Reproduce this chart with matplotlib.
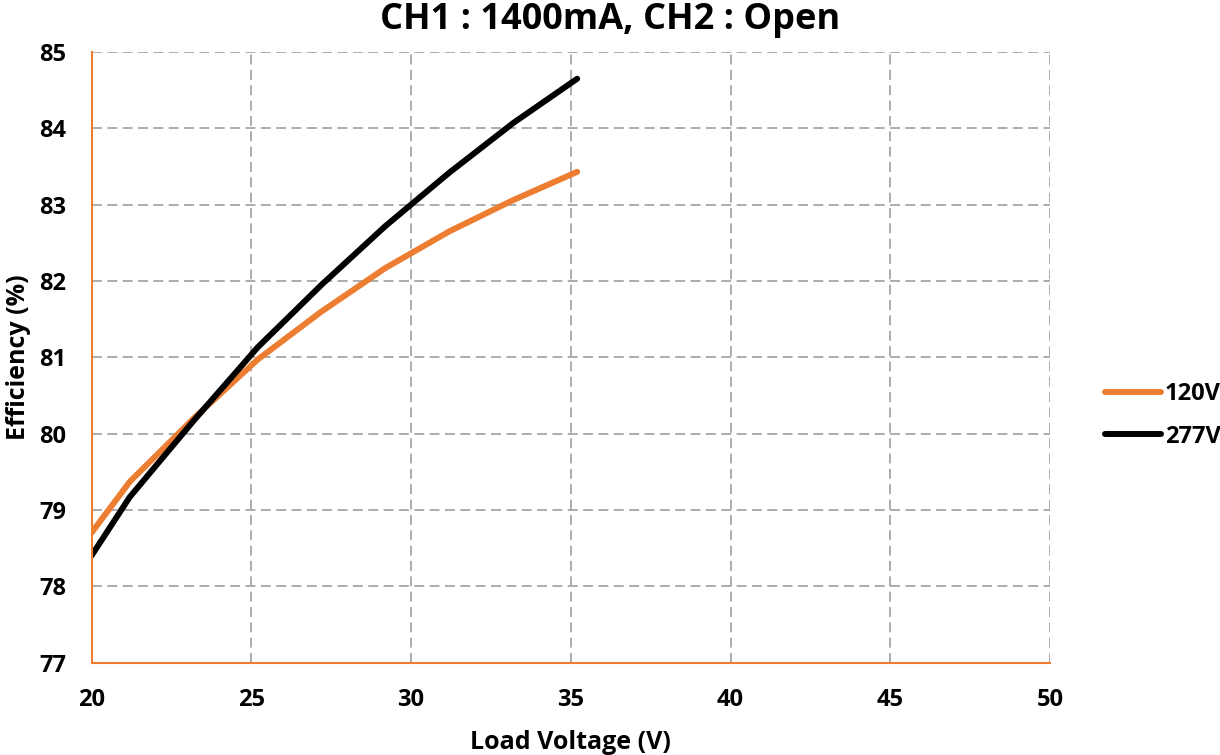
import matplotlib
matplotlib.use('Agg')
import matplotlib.pyplot as plt

plt.rcParams['font.family'] = ['Open Sans', 'DejaVu Sans']
plt.rcParams['font.weight'] = 'bold'

# Load voltage (V) and efficiency (%)
load_voltage = [20.0, 21.2, 23.2, 25.2, 27.2, 29.2, 31.2, 33.2, 35.2]
eff_120v = [78.70, 79.37, 80.20, 80.97, 81.60, 82.17, 82.65, 83.06, 83.43]
eff_277v = [78.40, 79.17, 80.17, 81.13, 81.95, 82.72, 83.42, 84.07, 84.65]

x_ticks = [20, 25, 30, 35, 40, 45, 50]
y_ticks = [77, 78, 79, 80, 81, 82, 83, 84, 85]

ORANGE = '#ED7D31'

fig = plt.figure(figsize=(12.2, 7.55), dpi=100)
ax = fig.add_axes([0.075, 0.1225, 0.7857, 0.8086])

ax.plot(load_voltage, eff_120v, color=ORANGE, linewidth=4.3,
        solid_capstyle='round', label='120V')
ax.plot(load_voltage, eff_277v, color='black', linewidth=4.3,
        solid_capstyle='round', label='277V')

ax.set_xlim(20, 50)
ax.set_ylim(77, 85)
ax.set_xticks(x_ticks)
ax.set_yticks(y_ticks)
ax.tick_params(length=0, labelsize=17, pad=18)
for lab in ax.get_xticklabels() + ax.get_yticklabels():
    lab.set_fontweight('bold')

ax.grid(True, color='#A6A6A6', linestyle=(0, (5.5, 3)), linewidth=1.3)
ax.set_axisbelow(True)
for side in ['top', 'right']:
    ax.spines[side].set_visible(False)
for side in ['left', 'bottom']:
    ax.spines[side].set_color(ORANGE)
    ax.spines[side].set_linewidth(1.5)

ax.set_xlabel('Load Voltage (V)', fontsize=18, fontweight='bold', labelpad=13)
ax.set_ylabel('Efficiency (%)', fontsize=18, fontweight='bold', labelpad=6)
# title is centred on the whole figure, not on the plot area
fig.suptitle('CH1 : 1400mA, CH2 : Open', x=0.5, y=0.9735, va='center',
             fontsize=26, fontweight='bold')

ax.legend(loc='center left', bbox_to_anchor=(1.057, 0.405), frameon=False,
          borderaxespad=0, borderpad=0,
          handlelength=2.4, handletextpad=0.15, labelspacing=0.8,
          prop={'weight': 'bold', 'size': 17})

fig.savefig('out.png', dpi=100)
